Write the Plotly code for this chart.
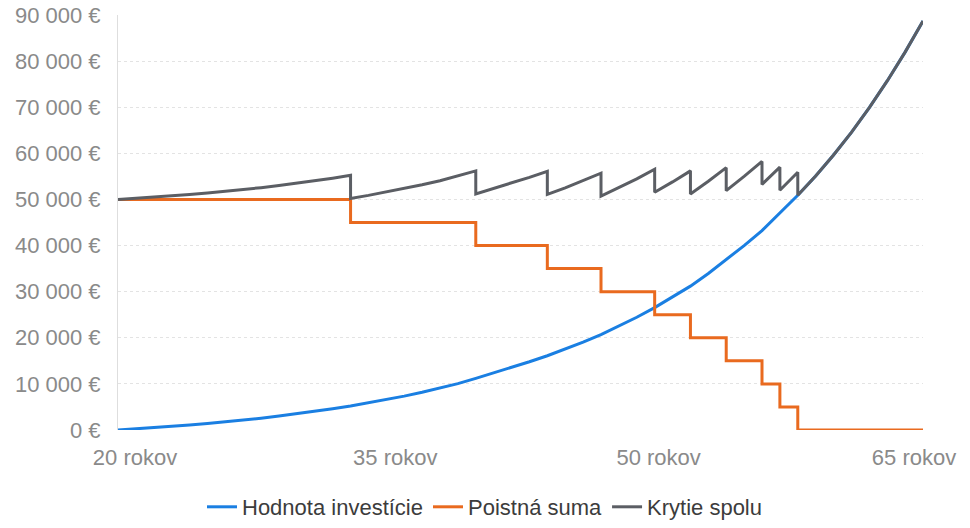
import plotly.graph_objects as go

# ---------------- data ----------------
AGES = list(range(20, 66))

INVESTMENT = [
    0, 230, 480, 760, 1060, 1390, 1750, 2140, 2560, 3020,
    3510, 4040, 4610, 5220, 5880, 6590, 7350, 8170, 9050, 10050,
    11200, 12350, 13550, 14800, 16100, 17500, 19050, 20700, 22500, 24450,
    26550, 28800, 31200, 33950, 36900, 40000, 43250, 47000, 50900, 55100,
    59650, 64550, 69900, 75700, 81950, 88700,
]

SUM_INSURED = (
    [50000] * 13 + [45000] * 7 + [40000] * 4 + [35000] * 3 + [30000] * 3
    + [25000] * 2 + [20000] * 2 + [15000] * 2 + [10000] + [5000] + [0] * 8
)

SERIES_NAMES = ["Hodnota investície", "Poistná suma", "Krytie spolu"]

TICK_AGES = [20, 35, 50, 65]
TICK_LABELS = ["20 rokov", "35 rokov", "50 rokov", "65 rokov"]

Y_TICKS = [0, 10000, 20000, 30000, 40000, 50000, 60000, 70000, 80000, 90000]
Y_LABELS = ["0 €", "10 000 €", "20 000 €", "30 000 €", "40 000 €",
            "50 000 €", "60 000 €", "70 000 €", "80 000 €", "90 000 €"]

# ---------------- styling ----------------
BLUE = "#1a7fe2"
ORANGE = "#e96a1f"
GREY = "#5b5e64"
FONT = "Liberation Sans, Arial, sans-serif"
LABEL_NUDGE = [0.95, 0.5, 0.22, -0.5]  # label placement tweak (years)

# total coverage = investment + sum insured, with vertical drops when the sum insured changes
tot_x, tot_y = [], []
for i, a in enumerate(AGES):
    if i > 0 and SUM_INSURED[i] != SUM_INSURED[i - 1]:
        tot_x.append(a)
        tot_y.append(INVESTMENT[i] + SUM_INSURED[i - 1])
    tot_x.append(a)
    tot_y.append(INVESTMENT[i] + SUM_INSURED[i])

fig = go.Figure()
fig.add_trace(go.Scatter(x=AGES, y=INVESTMENT, name=SERIES_NAMES[0], mode="lines",
                         line=dict(color=BLUE, width=3)))
fig.add_trace(go.Scatter(x=AGES, y=SUM_INSURED, name=SERIES_NAMES[1], mode="lines",
                         line=dict(color=ORANGE, width=3, shape="hv")))
fig.add_trace(go.Scatter(x=tot_x, y=tot_y, name=SERIES_NAMES[2], mode="lines",
                         line=dict(color=GREY, width=3)))

fig.update_layout(
    width=970, height=528,
    margin=dict(l=118, r=47, t=15, b=98),
    paper_bgcolor="white", plot_bgcolor="white",
    font=dict(family=FONT, size=22, color="#8a8a8a"),
    showlegend=True,
    legend=dict(orientation="h", xref="container", x=0.5, xanchor="center",
                yref="container", y=-0.01, yanchor="bottom",
                font=dict(size=22, color="#3c3c3c"), itemwidth=30,
                tracegroupgap=0),
    hovermode=False,
)
fig.update_xaxes(
    range=[20, 65], showgrid=False, zeroline=False, showline=False,
    tickmode="array",
    tickvals=[a + d for a, d in zip(TICK_AGES, LABEL_NUDGE)],
    ticktext=TICK_LABELS, ticks="", ticklabelstandoff=12, automargin=False,
    ticklabeloverflow="allow",
)
fig.update_yaxes(
    range=[0, 90000], tickmode="array", tickvals=Y_TICKS, ticktext=Y_LABELS,
    showgrid=True, gridcolor="#e3e3e3", griddash="3px,3px", gridwidth=1,
    zeroline=False, showline=True, linecolor="#dedede", linewidth=1,
    ticks="", ticklabelstandoff=12, automargin=False,
    ticklabeloverflow="allow",
)

fig.write_html(
    "out.html",
    config={"displayModeBar": False, "staticPlot": True},
    post_script="document.body.style.margin='0';document.body.style.overflow='hidden';",
)
